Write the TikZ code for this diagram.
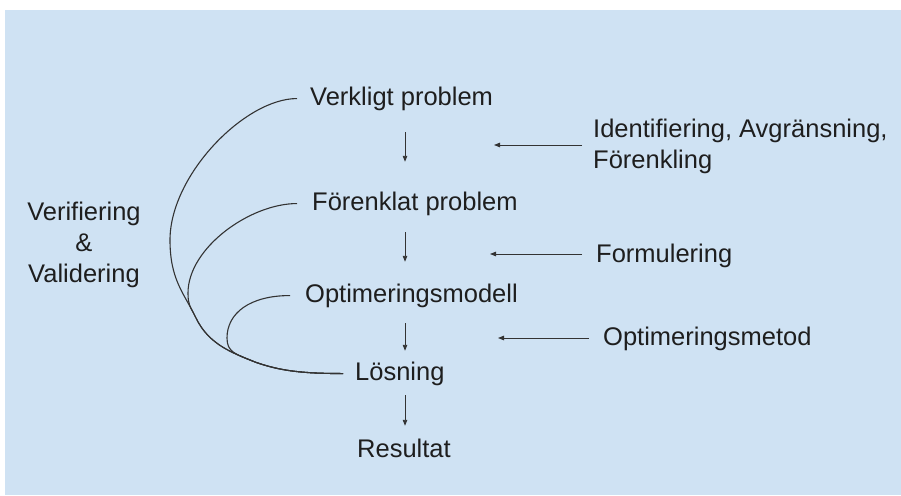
\documentclass[tikz,border=0pt]{standalone}
\usepackage{fontspec}
\setmainfont{Liberation Sans}
\usetikzlibrary{arrows.meta}
\definecolor{bgblue}{HTML}{CFE2F3}
\definecolor{ink}{HTML}{1E1E1E}
\definecolor{linec}{HTML}{333333}
\begin{document}
\begin{tikzpicture}[x=1pt,y=-1pt,
  every node/.style={font=\fontsize{25.5}{31}\selectfont, text=ink, inner sep=0pt},
  stage/.style={text height=18.3pt, text depth=5.4pt, anchor=base west},
  arr/.style={draw=linec, line width=0.9pt, -{Triangle[length=6pt,width=4.5pt]}},
  loopline/.style={draw=linec, line width=1.1pt}]
\useasboundingbox (0,0) rectangle (901,495);
\fill[white] (0,0) rectangle (901,495);
\fill[bgblue] (5,10) rectangle (901,495);

% main column
\node[stage, inner xsep=13pt] (V) at (297,105) {Verkligt problem};
\node[stage, inner xsep=15pt] (F) at (297,210) {Förenklat problem};
\node[stage, inner xsep=15pt] (O) at (290,302) {Optimeringsmodell};
\node[stage, inner xsep=12pt] (L) at (343,380) {Lösning};
\node[stage] (R) at (357,457) {Resultat};

\coordinate (col) at (405,0);
\draw[arr, shorten <=21.6pt, shorten >=29.7pt] (V.south -| col) -- (F.north -| col);
\draw[arr, shorten <=16.6pt, shorten >=21.7pt] (F.south -| col) -- (O.north -| col);
\draw[arr, shorten <=15.6pt, shorten >=10.7pt] (O.south -| col) -- (L.north -| col);
\draw[arr, shorten <=9.6pt, shorten >=12.7pt] (L.south -| col) -- (R.north -| col);

% right column
\node[anchor=west, align=left] (I) at (593,146) {Identifiering, Avgränsning,\\Förenkling};
\node[anchor=base west] (Fo) at (596,262) {Formulering};
\node[anchor=base west] (Om) at (603,345) {Optimeringsmetod};
\coordinate (t1) at (494,145);
\coordinate (t2) at (490,254);
\coordinate (t3) at (498,338);
\draw[arr, shorten <=11pt] (I.west |- t1) -- (t1);
\draw[arr, shorten <=14pt] (Fo.west |- t2) -- (t2);
\draw[arr, shorten <=14pt] (Om.west |- t3) -- (t3);

% left label
\node[align=center] (VV) at (84,245) {Verifiering\\\&\\Validering};

% feedback curves (sharing their common tail)
\coordinate (k1) at (170,240);
\coordinate (k2) at (188,293);
\coordinate (k3) at (227,338);
\coordinate (N) at (196,318);
\coordinate (M) at (255,362);
\draw[loopline] (V.west) .. controls +(-52,0) and +(0,-65) .. (k1)
  .. controls +(0,40) and +(-12,-25) .. (N)
  .. controls +(13,27) and +(-22,-9) .. (M)
  .. controls +(25,9) and +(-40,0) .. (L.west);
\draw[loopline] (F.west) .. controls +(-47,0) and +(0,-45) .. (k2)
  .. controls +(0,12) and +(-6,-12) .. (N)
  .. controls +(13,27) and +(-22,-9) .. (M)
  .. controls +(25,9) and +(-40,0) .. (L.west);
\draw[loopline] (O.west) .. controls +(-40,0) and +(0,-25) .. (k3)
  .. controls +(0,14) and +(-20,-8) .. (M)
  .. controls +(25,9) and +(-40,0) .. (L.west);
\end{tikzpicture}
\end{document}
